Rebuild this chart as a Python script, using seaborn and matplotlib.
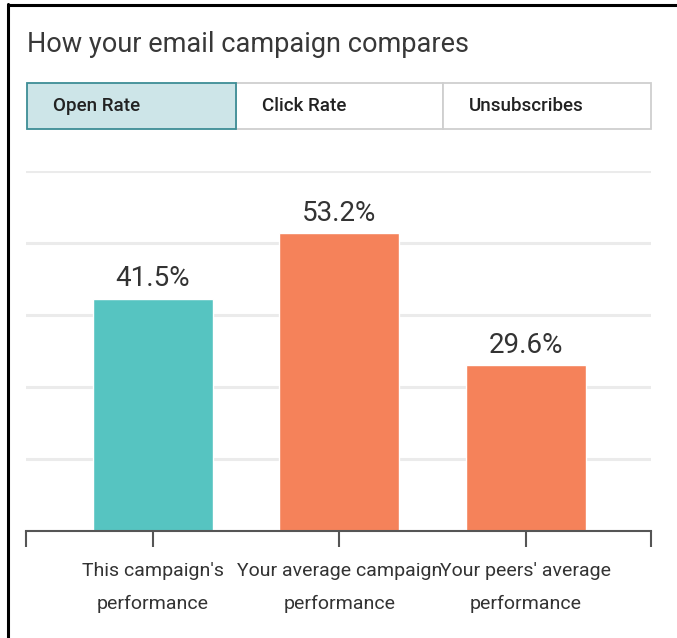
import matplotlib
matplotlib.use('Agg')
import matplotlib.pyplot as plt
import seaborn as sns
import numpy as np
from matplotlib.patches import Rectangle
from matplotlib.lines import Line2D

sns.set_style("white")
plt.rcParams['font.family'] = ['Roboto', 'DejaVu Sans']

# 数据
categories = ["This campaign's\nperformance",
              "Your average campaign\nperformance",
              "Your peers' average\nperformance"]
open_rate = [41.5, 53.2, 29.6]
bar_colors = ['#56c4c1', '#f5825a', '#f5825a']
tab_names = ['Open Rate', 'Click Rate', 'Unsubscribes']
title = 'How your email campaign compares'

W, H = 677, 638
fig = plt.figure(figsize=(W / 100, H / 100), dpi=100)

def fx(px):
    return px / W

def fy(py):
    return 1 - py / H

# 外框 (左、上)
fig.add_artist(Line2D([fx(8), fx(8)], [fy(4), 0], color='black', lw=2.2))
fig.add_artist(Line2D([fx(8), 1], [fy(5), fy(5)], color='black', lw=2.2))

# 标题
fig.text(fx(27), fy(44), title, fontsize=19.5, fontweight='normal',
         color='#383838', va='center', ha='left')

# 选项卡
tab_edges = [27, 236, 443, 651]
for i, name in enumerate(tab_names):
    x0, x1 = tab_edges[i], tab_edges[i + 1]
    active = i == 0
    rect = Rectangle((fx(x0), fy(129)), fx(x1) - fx(x0), fy(83) - fy(129),
                     transform=fig.transFigure,
                     facecolor='#cde5e8' if active else 'white',
                     edgecolor='#3d8d95' if active else '#cfcfcf',
                     lw=1.3, zorder=2 if active else 1)
    fig.add_artist(rect)
    fig.text(fx(x0 + 26), fy(106), name, fontsize=13.5, fontweight='medium',
             color='#222222', va='center', ha='left')

# 柱状图
ax = fig.add_axes([fx(26), fy(531), fx(651) - fx(26), fy(171) - fy(531)])
sns.barplot(x=categories, y=open_rate, hue=categories, palette=bar_colors,
            width=0.643, legend=False, ax=ax, saturation=1, zorder=3)

ymax = max(open_rate) * 1.21
ax.set_ylim(0, ymax)
ax.set_xlim(-0.68, 2.67)
ax.set_yticks(np.linspace(0, ymax, 6))
ax.yaxis.grid(True, color='#ebebeb', lw=2.2, zorder=0)
ax.tick_params(axis='y', left=False, labelleft=False)
for s in ['left', 'right', 'top']:
    ax.spines[s].set_visible(False)
ax.spines['bottom'].set_color('#555555')
ax.spines['bottom'].set_linewidth(1.5)
ax.spines['bottom'].set_zorder(4)

ax.set_xticks(range(len(categories)))
ax.set_xticklabels(categories, fontsize=14, color='#333333', linespacing=2.05)
ax.set_xticks([-0.68, 2.67], minor=True)
ax.tick_params(axis='x', which='both', bottom=True, length=11.5, width=1.5,
               color='#555555', direction='out', pad=11)
ax.set_xlabel('')

for i, v in enumerate(open_rate):
    ax.annotate(f'{v:.1f}%', xy=(i, v), xytext=(0, 14.5), textcoords='offset points',
                ha='center', va='center', fontsize=20, color='#333333')

fig.savefig('out.png', dpi=100)
